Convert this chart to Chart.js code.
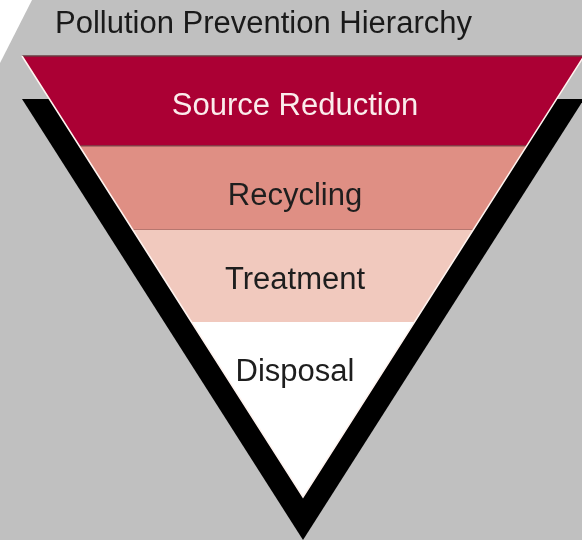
<!DOCTYPE html>
<html>
<head>
    <title>Pollution Prevention Hierarchy</title>
    <script src="https://cdn.jsdelivr.net/npm/chart.js@4/dist/chart.umd.min.js"></script>
    <style>
        body {
            margin: 0;
            background-color: #c0c0c0;
        }

        #wrap {
            width: 582px;
            height: 540px;
            position: relative;
        }
    </style>
</head>
<body>
    <div id="wrap"><canvas id="funnel"></canvas></div>

    <script>
        const chartTitle = 'Pollution Prevention Hierarchy';
        const levels = ['Source Reduction', 'Recycling', 'Treatment', 'Disposal'];
        // share of the triangle's depth taken by each level, top to bottom
        const shares = [0.204, 0.190, 0.209, 0.397];
        const fills = ['#ab0034', '#df8f84', '#f1c9be', '#ffffff'];
        const inks = ['#fbecec', '#1e1e1e', '#1e1e1e', '#1e1e1e'];

        const FONT = '"Liberation Sans", Arial, Helvetica, sans-serif';
        const shadowDrop = 0.0975;

        // band edges in depth units (0 = top of the triangle, 1 = apex)
        const edges = [0];
        shares.forEach(s => edges.push(edges[edges.length - 1] + s));
        edges[edges.length - 1] = 1;

        const half = d => 1 - d;

        const bandSets = levels.map((name, i) => {
            const d0 = edges[i], d1 = edges[i + 1];
            return {
                label: name,
                data: [
                    { x: -half(d0), y: d0 }, { x: half(d0), y: d0 },
                    { x: half(d1), y: d1 }, { x: -half(d1), y: d1 }
                ],
                backgroundColor: fills[i],
                borderWidth: 0,
                fill: 'shape',
                order: 5
            };
        });

        const shadow = {
            label: 'shadow',
            data: [{ x: -1, y: shadowDrop }, { x: 1, y: shadowDrop }, { x: 0, y: 1 + shadowDrop }],
            backgroundColor: '#000',
            borderWidth: 0,
            fill: 'shape',
            order: 10
        };

        const rim = {
            label: 'rim',
            data: [{ x: -1, y: 0 }, { x: 0, y: 1 }, { x: 1, y: 0 }],
            borderColor: '#fff4f0',
            borderWidth: 1.5,
            fill: false,
            order: 1
        };

        const topLine = {
            label: 'top',
            data: [{ x: -1, y: 0 }, { x: 1, y: 0 }],
            borderColor: '#6a3a40',
            borderWidth: 1.5,
            fill: false,
            order: 1
        };

        const firstLine = {
            label: 'first',
            data: [{ x: -half(edges[1]), y: edges[1] }, { x: half(edges[1]), y: edges[1] }],
            borderColor: '#7a4a4a',
            borderWidth: 1.2,
            fill: false,
            order: 1
        };

        const paperCorner = {
            id: 'paperCorner',
            beforeDraw(chart) {
                const ctx = chart.ctx;
                ctx.save();
                ctx.fillStyle = '#ffffff';
                ctx.beginPath();
                ctx.moveTo(0, 0);
                ctx.lineTo(32, 0);
                ctx.lineTo(0, 63);
                ctx.closePath();
                ctx.fill();
                ctx.restore();
            }
        };

        const levelText = {
            id: 'levelText',
            afterDatasetsDraw(chart) {
                const ctx = chart.ctx;
                const xs = chart.scales.x, ys = chart.scales.y;
                ctx.save();
                ctx.font = '31px ' + FONT;
                ctx.textBaseline = 'alphabetic';
                ctx.textAlign = 'left';
                ctx.fillStyle = '#1a1a1a';
                ctx.fillText(chartTitle, 55, 33);
                ctx.textAlign = 'center';
                levels.forEach((name, i) => {
                    ctx.fillStyle = inks[i];
                    ctx.fillText(name, xs.getPixelForValue(0) - 8, ys.getPixelForValue(edges[i]) + 59);
                });
                ctx.restore();
            }
        };

        new Chart(document.getElementById('funnel'), {
            type: 'scatter',
            data: { datasets: [rim, topLine, firstLine, ...bandSets, shadow] },
            options: {
                responsive: true,
                maintainAspectRatio: false,
                animation: false,
                events: [],
                showLine: true,
                layout: { padding: 0 },
                elements: {
                    point: { radius: 0 },
                    line: { tension: 0 }
                },
                scales: {
                    x: { type: 'linear', display: false, min: -303 / 281, max: 279 / 281 },
                    y: { type: 'linear', display: false, reverse: true, min: -56 / 441, max: 484 / 441 }
                },
                plugins: {
                    legend: { display: false },
                    tooltip: { enabled: false },
                    title: { display: false }
                }
            },
            plugins: [paperCorner, levelText]
        });
    </script>
</body>
</html>
